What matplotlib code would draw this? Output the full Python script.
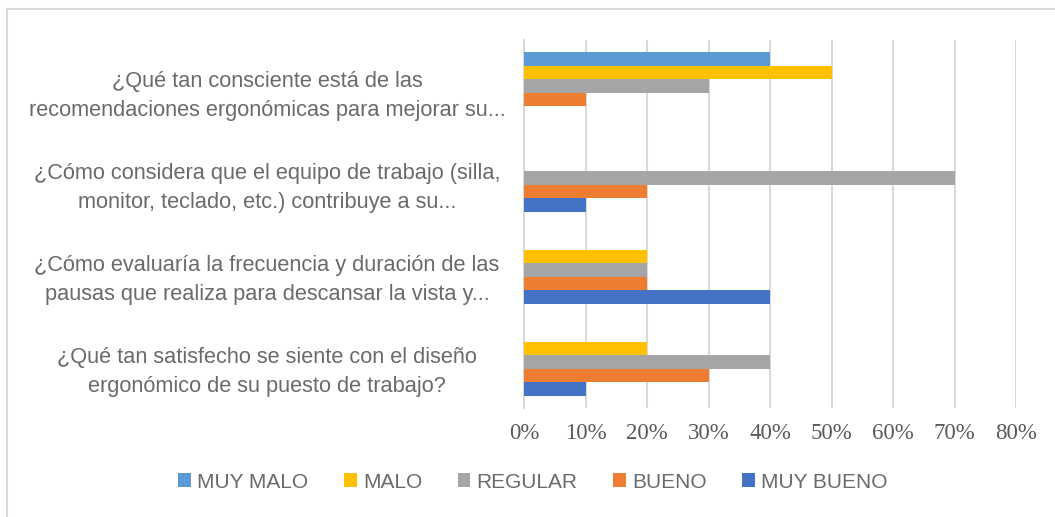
import matplotlib
matplotlib.use("Agg")
import matplotlib.pyplot as plt
from matplotlib.lines import Line2D
from matplotlib.patches import Patch
from matplotlib.transforms import ScaledTranslation
import numpy as np

categories = [
    "¿Qué tan satisfecho se siente con el diseño\nergonómico de su puesto de trabajo?",
    "¿Cómo evaluaría la frecuencia y duración de las\npausas que realiza para descansar la vista y...",
    "¿Cómo considera que el equipo de trabajo (silla,\nmonitor, teclado, etc.) contribuye a su...",
    "¿Qué tan consciente está de las\nrecomendaciones ergonómicas para mejorar su...",
]
series_names = ["MUY MALO", "MALO", "REGULAR", "BUENO", "MUY BUENO"]
muy_malo = [0.0, 0.0, 0.0, 0.40]
malo = [0.20, 0.20, 0.0, 0.50]
regular = [0.40, 0.20, 0.70, 0.30]
bueno = [0.30, 0.20, 0.20, 0.10]
muy_bueno = [0.10, 0.40, 0.10, 0.0]
colors = ["#5B9BD5", "#FFC000", "#A5A5A5", "#ED7D31", "#4472C4"]
xticks = [0, 0.1, 0.2, 0.3, 0.4, 0.5, 0.6, 0.7, 0.8]
xticklabels = ["0%", "10%", "20%", "30%", "40%", "50%", "60%", "70%", "80%"]

W, H = 1055, 517
fig = plt.figure(figsize=(W / 100, H / 100), dpi=100)
ax = fig.add_axes([524 / W, 1 - 408 / H, (1016 - 524) / W, (408 - 40) / H])

data = [muy_malo, malo, regular, bueno, muy_bueno]
y = np.arange(len(categories))
bh = 0.146
for i, (vals, c, name) in enumerate(zip(data, colors, series_names)):
    offs = (2 - i) * bh
    ax.barh(y + offs, vals, height=bh, color=c, linewidth=0, zorder=3, label=name)

ax.set_xlim(0, 0.8)
ax.set_ylim(-0.5, len(categories) - 0.5)
ax.set_xticks(xticks)
ax.set_xticklabels(xticklabels, fontfamily="Liberation Serif", fontsize=16.5, color="#595959")
ax.tick_params(axis="x", length=0, pad=11)
ax.tick_params(axis="y", length=0, pad=0)
ax.set_yticks(y - 0.04)
ax.set_yticklabels(categories, fontfamily="Liberation Sans", fontsize=15.7,
                   color="#6a6a6a", ha="center", linespacing=1.5)
for lab in ax.get_yticklabels():
    lab.set_horizontalalignment("center")
    lab.set_transform(lab.get_transform() + ScaledTranslation(-(524 - 267) / 100, 0, fig.dpi_scale_trans))

ax.grid(axis="x", color="#D9D9D9", linewidth=1.5, zorder=0)
for s in ["top", "right", "bottom"]:
    ax.spines[s].set_visible(False)
ax.spines["left"].set_color("#D9D9D9")
ax.spines["left"].set_linewidth(1.5)

handles = [Patch(facecolor=c, edgecolor="none") for c in colors]
leg = fig.legend(handles, series_names, loc="center", bbox_to_anchor=(533 / W, 1 - 482 / H),
                 ncol=5, frameon=False, handlelength=0.62, handleheight=0.62, handletextpad=0.3,
                 columnspacing=1.7, borderpad=0, prop={"family": "Liberation Sans", "size": 15})
for t in leg.get_texts():
    t.set_color("#6a6a6a")

fig.add_artist(Line2D([7 / W, 7 / W], [0, 1 - 9 / H], color="#D9D9D9", linewidth=1.5))
fig.add_artist(Line2D([7 / W, 1], [1 - 9 / H, 1 - 9 / H], color="#D9D9D9", linewidth=1.5))

fig.savefig("out.png", dpi=100)
